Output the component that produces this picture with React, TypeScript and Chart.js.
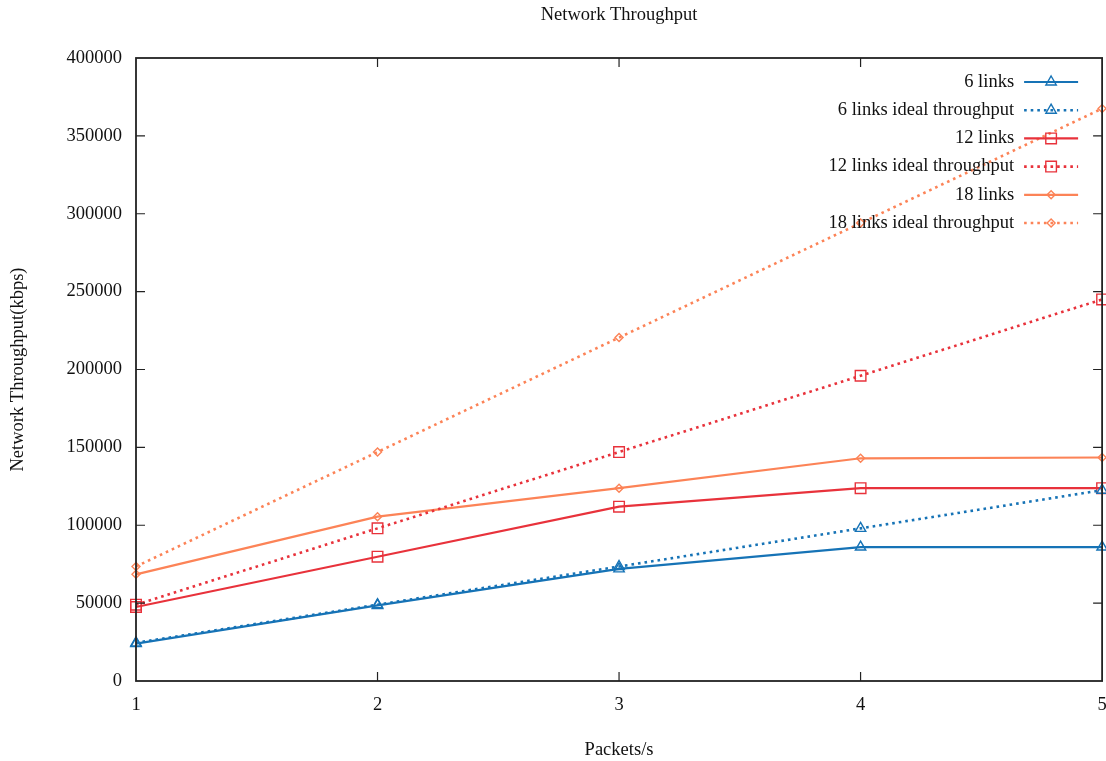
import React, { useEffect, useRef } from "react";
import { Chart, registerables } from "chart.js";
import { drawPoint } from "chart.js/helpers";

Chart.register(...registerables);

const packets = [1, 2, 3, 4, 5];
const links6 = [24000, 48500, 72000, 86000, 86000];
const links6Ideal = [24500, 49000, 73500, 98000, 122500];
const links12 = [47500, 79800, 111900, 123800, 123800];
const links12Ideal = [49000, 98000, 147000, 196000, 245000];
const links18 = [68500, 105500, 123800, 143000, 143500];
const links18Ideal = [73500, 147000, 220500, 294000, 367500];

const seriesNames = [
  "6 links",
  "6 links ideal throughput",
  "12 links",
  "12 links ideal throughput",
  "18 links",
  "18 links ideal throughput",
];
const chartTitle = "Network Throughput";
const xTitle = "Packets/s";
const yTitle = "Network Throughput(kbps)";

const BLUE = "#1673b6";
const RED = "#e8323b";
const ORANGE = "#fc8357";
const FONT = "'Liberation Serif', 'Times New Roman', serif";
const FS = 18.5;

const toPoints = (ys: number[]) => packets.map((x, i) => ({ x, y: ys[i] }));

const frameTicksPlugin = {
  id: "gnuFrame",
  afterDatasetsDraw(chart: any) {
    const { ctx, chartArea } = chart;
    const { left, right, top, bottom } = chartArea;
    const xs = chart.scales.x;
    const ys = chart.scales.y;
    const TL = 9;
    ctx.save();
    ctx.strokeStyle = "#222";
    ctx.lineWidth = 1.2;
    ctx.beginPath();
    ys.ticks.forEach((t: any) => {
      const py = ys.getPixelForValue(t.value);
      if (Math.abs(py - top) < 1 || Math.abs(py - bottom) < 1) return;
      ctx.moveTo(left, py);
      ctx.lineTo(left + TL, py);
      ctx.moveTo(right, py);
      ctx.lineTo(right - TL, py);
    });
    xs.ticks.forEach((t: any) => {
      const px = xs.getPixelForValue(t.value);
      if (Math.abs(px - left) < 1 || Math.abs(px - right) < 1) return;
      ctx.moveTo(px, bottom);
      ctx.lineTo(px, bottom - TL);
      ctx.moveTo(px, top);
      ctx.lineTo(px, top + TL);
    });
    ctx.stroke();
    ctx.lineWidth = 1.8;
    ctx.strokeRect(left, top, right - left, bottom - top);
    ctx.restore();
  },
};

const topTitlePlugin = {
  id: "gnuTitle",
  afterDraw(chart: any) {
    const { ctx, chartArea } = chart;
    ctx.save();
    ctx.font = `${FS}px ${FONT}`;
    ctx.fillStyle = "#111";
    ctx.textAlign = "center";
    ctx.textBaseline = "middle";
    ctx.fillText(chartTitle, (chartArea.left + chartArea.right) / 2, 15);
    ctx.restore();
  },
};

const insideLegendPlugin = {
  id: "gnuLegend",
  afterDraw(chart: any) {
    const { ctx, chartArea } = chart;
    const { right, top } = chartArea;
    const textRight = right - 88;
    const lineStart = right - 78;
    const lineEnd = right - 24;
    const markX = (lineStart + lineEnd) / 2;
    ctx.save();
    chart.data.datasets.forEach((ds: any, i: number) => {
      const y = top + 24 + i * 28.2;
      ctx.font = `${FS}px ${FONT}`;
      ctx.fillStyle = "#111";
      ctx.textAlign = "right";
      ctx.textBaseline = "middle";
      ctx.fillText(ds.label, textRight, y);
      ctx.strokeStyle = ds.borderColor;
      ctx.lineWidth = ds.borderWidth;
      ctx.setLineDash(ds.borderDash || []);
      ctx.beginPath();
      ctx.moveTo(lineStart, y);
      ctx.lineTo(lineEnd, y);
      ctx.stroke();
      ctx.setLineDash([]);
      ctx.lineWidth = 1.4;
      ctx.strokeStyle = ds.borderColor;
      ctx.fillStyle = "rgba(255,255,255,0)";
      drawPoint(ctx, { pointStyle: ds.pointStyle, rotation: 0, radius: ds.pointRadius, borderWidth: 1.4 }, markX, y);
    });
    ctx.restore();
  },
};

export default function App() {
  const ref = useRef<HTMLCanvasElement>(null);
  useEffect(() => {
    if (!ref.current) return;
    const mk = (label: string, data: number[], color: string, dotted: boolean, style: string, r: number) => ({
      label,
      data: toPoints(data),
      borderColor: color,
      backgroundColor: "rgba(255,255,255,0)",
      borderWidth: dotted ? 2.6 : 2.2,
      borderDash: dotted ? [2.6, 4] : [],
      pointStyle: style,
      pointRadius: r,
      pointHoverRadius: r,
      pointBorderWidth: 1.4,
      pointBorderColor: color,
      pointBackgroundColor: "rgba(255,255,255,0)",
      tension: 0,
      fill: false,
      clip: false as any,
    });
    const chart = new Chart(ref.current, {
      type: "line",
      data: {
        datasets: [
          mk(seriesNames[0], links6, BLUE, false, "triangle", 6),
          mk(seriesNames[1], links6Ideal, BLUE, true, "triangle", 6),
          mk(seriesNames[2], links12, RED, false, "rect", 7.5),
          mk(seriesNames[3], links12Ideal, RED, true, "rect", 7.5),
          mk(seriesNames[4], links18, ORANGE, false, "rectRot", 4),
          mk(seriesNames[5], links18Ideal, ORANGE, true, "rectRot", 4),
        ],
      },
      options: {
        animation: false,
        responsive: true,
        maintainAspectRatio: false,
        events: [],
        layout: { padding: { left: 0, right: 0, top: 58, bottom: 0 } },
        plugins: {
          legend: { display: false },
          tooltip: { enabled: false },
          title: { display: false },
        },
        scales: {
          x: {
            type: "linear",
            min: 1,
            max: 5,
            afterFit: (s: any) => {
              s.height = 80;
            },
            ticks: {
              stepSize: 1,
              color: "#111",
              padding: 0,
              font: { family: FONT, size: FS },
              callback: (v: any) => String(v),
            },
            grid: {
              display: true,
              drawOnChartArea: false,
              drawTicks: true,
              tickLength: 13,
              color: "rgba(0,0,0,0)",
            },
            border: { display: false },
            title: {
              display: true,
              text: xTitle,
              color: "#111",
              font: { family: FONT, size: FS },
              padding: { top: 0, bottom: 0 },
            },
          },
          y: {
            type: "linear",
            min: 0,
            max: 400000,
            afterFit: (s: any) => {
              s.width = 136;
            },
            ticks: {
              stepSize: 50000,
              color: "#111",
              padding: 14,
              font: { family: FONT, size: FS },
              callback: (v: any) => String(v),
            },
            grid: { display: false, drawTicks: false },
            border: { display: false },
            title: {
              display: true,
              text: yTitle,
              color: "#111",
              font: { family: FONT, size: FS },
              padding: { top: 7, bottom: 0 },
            },
          },
        },
      },
      plugins: [frameTicksPlugin, insideLegendPlugin, topTitlePlugin],
    });
    return () => chart.destroy();
  }, []);
  return (
    <div style={{ position: "fixed", left: 0, top: 0, width: 1106, height: 761, overflow: "hidden", background: "#fff" }}>
      <div style={{ position: "absolute", left: 0, top: 0, width: 1111, height: 761 }}>
        <canvas ref={ref} />
      </div>
    </div>
  );
}
